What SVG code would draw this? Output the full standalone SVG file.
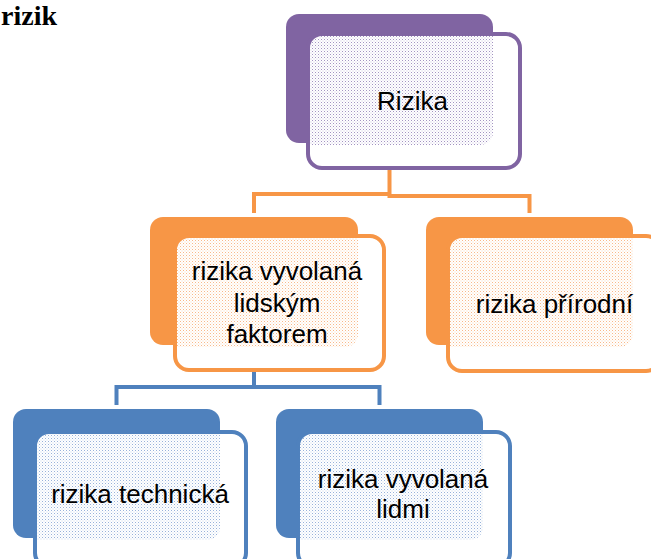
<svg xmlns="http://www.w3.org/2000/svg" width="651" height="559" viewBox="0 0 651 559">
<defs>
<pattern id="pp" width="3" height="3" patternUnits="userSpaceOnUse"><rect x="0" y="0" width="1" height="1" fill="#a394c2"/><rect x="1.5" y="1.5" width="1" height="1" fill="#cbc2dd"/></pattern>
<pattern id="po" width="3" height="3" patternUnits="userSpaceOnUse"><rect x="0" y="0" width="1" height="1" fill="#f8b98a"/><rect x="1.5" y="1.5" width="1" height="1" fill="#fbd5b8"/></pattern>
<pattern id="pb" width="3" height="3" patternUnits="userSpaceOnUse"><rect x="0" y="0" width="1" height="1" fill="#98b2da"/><rect x="1.5" y="1.5" width="1" height="1" fill="#c6d5ec"/></pattern>
<clipPath id="c1"><rect x="310" y="36" width="208" height="130" rx="12"/></clipPath>
<clipPath id="c2"><rect x="177" y="238" width="205" height="130" rx="12"/></clipPath>
<clipPath id="c3"><rect x="450" y="238" width="210" height="130" rx="12"/></clipPath>
<clipPath id="c4"><rect x="37" y="434" width="207" height="131" rx="12"/></clipPath>
<clipPath id="c5"><rect x="300" y="434" width="208" height="131" rx="12"/></clipPath>
</defs>
<style>
.t{font-family:"Liberation Sans",Arial,sans-serif;font-size:26px;fill:#000;text-anchor:middle}
.title{font-family:"Liberation Serif","Times New Roman",serif;font-weight:bold;font-size:28px;fill:#000}
.front{fill:#fff;stroke-width:4}
.conn{fill:none;stroke-width:4}
</style>
<text class="title" x="57" y="25" text-anchor="end">rizik</text>
<g id="connectors">
<path class="conn" stroke="#f79646" d="M389.5,170 V194 H254 V213"/>
<path class="conn" stroke="#f79646" d="M389.5,194 V196 H529.5 V213"/>
<path class="conn" stroke="#4f81bd" d="M254,372 V387 H116.5 V405"/>
<path class="conn" stroke="#4f81bd" d="M254,387 H379.5 V405"/>
</g>
<g id="node-rizika">
<rect x="286" y="14" width="207" height="129" rx="13" fill="#8064a2"/>
<rect class="front" x="308" y="34" width="212" height="134" rx="14" stroke="#8064a2"/>
<rect x="286" y="14" width="207" height="131" rx="13" fill="url(#pp)" clip-path="url(#c1)"/>
<text class="t" x="412.5" y="110">Rizika</text>
</g>
<g id="node-lidsky">
<rect x="150" y="217" width="208" height="128" rx="13" fill="#f79646"/>
<rect class="front" x="175" y="236" width="209" height="134" rx="14" stroke="#f79646"/>
<rect x="150" y="217" width="208" height="130" rx="13" fill="url(#po)" clip-path="url(#c2)"/>
<text class="t" x="277" y="280">rizika vyvolaná</text>
<text class="t" x="277" y="312">lidským</text>
<text class="t" x="277" y="343">faktorem</text>
</g>
<g id="node-prirodni">
<rect x="426" y="217" width="207" height="128" rx="13" fill="#f79646"/>
<rect class="front" x="448" y="236" width="212" height="135" rx="14" stroke="#f79646"/>
<rect x="426" y="217" width="207" height="130" rx="13" fill="url(#po)" clip-path="url(#c3)"/>
<text class="t" x="554.5" y="313">rizika přírodní</text>
</g>
<g id="node-technicka">
<rect x="13" y="409" width="207" height="129" rx="13" fill="#4f81bd"/>
<rect class="front" x="35" y="432" width="211" height="135" rx="14" stroke="#4f81bd"/>
<rect x="13" y="409" width="207" height="131" rx="13" fill="url(#pb)" clip-path="url(#c4)"/>
<text class="t" x="140" y="503">rizika technická</text>
</g>
<g id="node-lidmi">
<rect x="276" y="409" width="207" height="129" rx="13" fill="#4f81bd"/>
<rect class="front" x="298" y="432" width="212" height="135" rx="14" stroke="#4f81bd"/>
<rect x="276" y="409" width="207" height="131" rx="13" fill="url(#pb)" clip-path="url(#c5)"/>
<text class="t" x="403" y="488">rizika vyvolaná</text>
<text class="t" x="403" y="518">lidmi</text>
</g>
</svg>
